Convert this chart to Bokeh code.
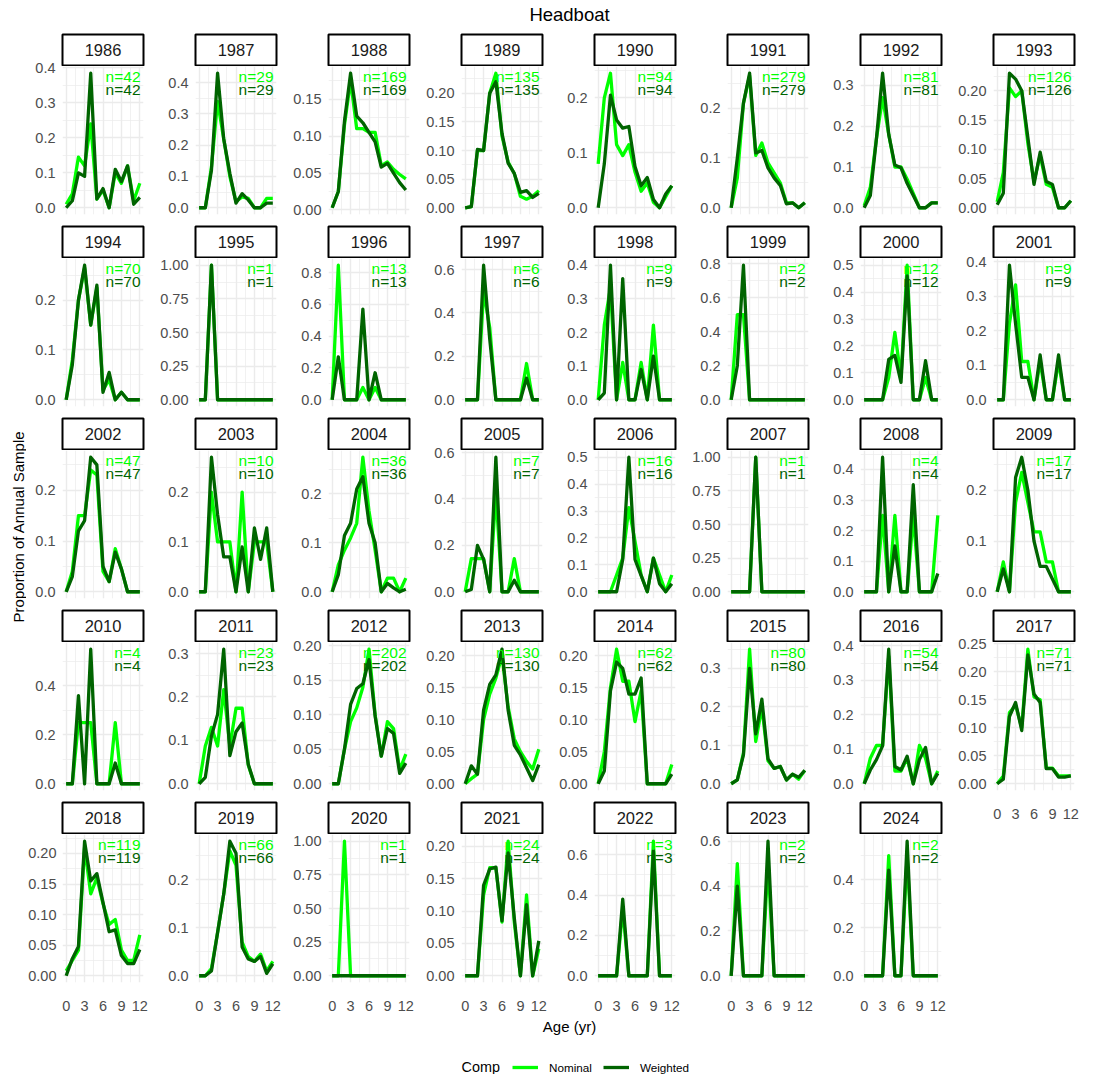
import math
from bokeh.plotting import figure
from bokeh.models import (Range1d, FixedTicker, NumeralTickFormatter, Grid, Label,
                          Legend, LegendItem)
from bokeh.layouts import row, column
from bokeh.embed import file_html
from bokeh.resources import INLINE

# ---------------- data ----------------
ages = list(range(13))
years = list(range(1986, 2025))
n_fish = [42, 29, 169, 135, 94, 279, 81, 126,
          70, 1, 13, 6, 9, 2, 12, 9,
          47, 10, 36, 7, 16, 1, 4, 17,
          4, 23, 202, 130, 62, 80, 54, 71,
          119, 66, 1, 24, 3, 2, 2]
y_step = [0.1, 0.1, 0.05, 0.05, 0.1, 0.1, 0.1, 0.05,
          0.1, 0.25, 0.2, 0.2, 0.1, 0.2, 0.1, 0.1,
          0.1, 0.1, 0.1, 0.2, 0.1, 0.25, 0.1, 0.1,
          0.2, 0.1, 0.05, 0.05, 0.05, 0.1, 0.1, 0.05,
          0.05, 0.1, 0.25, 0.05, 0.2, 0.2, 0.2]
x_ticks = [0, 3, 6, 9, 12]
x_minor = [1.5, 4.5, 7.5, 10.5]
comp_labels = ["Nominal", "Weighted"]

nom_1986 = [0.01, 0.04, 0.145, 0.12, 0.24, 0.025, 0.05, 0.0, 0.10, 0.07, 0.12, 0.02, 0.07]
wgt_1986 = [0.0, 0.02, 0.10, 0.09, 0.385, 0.025, 0.055, 0.0, 0.11, 0.075, 0.12, 0.01, 0.03]
nom_1987 = [0.0, 0.0, 0.13, 0.34, 0.22, 0.10, 0.02, 0.035, 0.03, 0.0, 0.0, 0.03, 0.03]
wgt_1987 = [0.0, 0.0, 0.12, 0.43, 0.22, 0.11, 0.015, 0.045, 0.025, 0.0, 0.0, 0.015, 0.015]
nom_1988 = [0.003, 0.025, 0.115, 0.175, 0.11, 0.11, 0.105, 0.105, 0.06, 0.065, 0.055, 0.048, 0.042]
wgt_1988 = [0.003, 0.025, 0.12, 0.185, 0.127, 0.118, 0.105, 0.092, 0.058, 0.063, 0.05, 0.037, 0.027]
nom_1989 = [0.0, 0.002, 0.10, 0.10, 0.20, 0.235, 0.125, 0.08, 0.06, 0.02, 0.015, 0.02, 0.03]
wgt_1989 = [0.0, 0.002, 0.102, 0.10, 0.20, 0.22, 0.13, 0.078, 0.06, 0.027, 0.03, 0.018, 0.025]
nom_1990 = [0.08, 0.2, 0.245, 0.115, 0.095, 0.115, 0.065, 0.03, 0.045, 0.01, 0.0, 0.02, 0.04]
wgt_1990 = [0.0, 0.08, 0.205, 0.16, 0.145, 0.148, 0.075, 0.04, 0.055, 0.015, 0.0, 0.025, 0.04]
nom_1991 = [0.0, 0.06, 0.21, 0.265, 0.105, 0.13, 0.09, 0.07, 0.05, 0.01, 0.01, 0.0, 0.01]
wgt_1991 = [0.0, 0.10, 0.21, 0.27, 0.11, 0.115, 0.08, 0.06, 0.045, 0.008, 0.01, 0.0, 0.01]
nom_1992 = [0.005, 0.05, 0.17, 0.27, 0.18, 0.10, 0.10, 0.07, 0.035, 0.0, 0.0, 0.012, 0.012]
wgt_1992 = [0.0, 0.03, 0.17, 0.33, 0.18, 0.105, 0.098, 0.06, 0.03, 0.0, 0.0, 0.012, 0.012]
nom_1993 = [0.01, 0.06, 0.205, 0.19, 0.20, 0.11, 0.045, 0.09, 0.04, 0.035, 0.0, 0.0, 0.012]
wgt_1993 = [0.005, 0.025, 0.23, 0.22, 0.20, 0.12, 0.04, 0.095, 0.045, 0.04, 0.0, 0.0, 0.012]
nom_1994 = [0.0, 0.08, 0.2, 0.265, 0.15, 0.225, 0.02, 0.04, 0.0, 0.015, 0.0, 0.0, 0.0]
wgt_1994 = [0.0, 0.07, 0.2, 0.27, 0.15, 0.23, 0.015, 0.055, 0.0, 0.015, 0.0, 0.0, 0.0]
nom_1995 = [0, 0, 1.0, 0, 0, 0, 0, 0, 0, 0, 0, 0, 0]
wgt_1995 = [0, 0, 1.0, 0, 0, 0, 0, 0, 0, 0, 0, 0, 0]
nom_1996 = [0.0, 0.846, 0.0, 0.0, 0.0, 0.077, 0.0, 0.077, 0.0, 0.0, 0.0, 0.0, 0.0]
wgt_1996 = [0.0, 0.27, 0.0, 0.0, 0.0, 0.57, 0.0, 0.17, 0.0, 0.0, 0.0, 0.0, 0.0]
nom_1997 = [0, 0, 0, 0.5, 0.333, 0, 0, 0, 0, 0, 0.167, 0, 0]
wgt_1997 = [0, 0, 0, 0.62, 0.28, 0, 0, 0, 0, 0, 0.10, 0, 0]
nom_1998 = [0.0, 0.222, 0.333, 0.0, 0.111, 0.0, 0.0, 0.111, 0.0, 0.222, 0.0, 0.0, 0.0]
wgt_1998 = [0.0, 0.02, 0.40, 0.0, 0.36, 0.0, 0.0, 0.09, 0.0, 0.13, 0.0, 0.0, 0.0]
nom_1999 = [0.0, 0.5, 0.5, 0, 0, 0, 0, 0, 0, 0, 0, 0, 0]
wgt_1999 = [0.0, 0.2, 0.79, 0, 0, 0, 0, 0, 0, 0, 0, 0, 0]
nom_2000 = [0, 0, 0, 0, 0.083, 0.25, 0.083, 0.5, 0, 0, 0.083, 0, 0]
wgt_2000 = [0, 0, 0, 0, 0.15, 0.165, 0.065, 0.46, 0, 0, 0.145, 0, 0]
nom_2001 = [0, 0, 0.222, 0.333, 0.111, 0.111, 0, 0.111, 0, 0, 0.111, 0, 0]
wgt_2001 = [0, 0, 0.39, 0.22, 0.065, 0.065, 0, 0.13, 0, 0, 0.13, 0, 0]
nom_2002 = [0.0, 0.04, 0.15, 0.15, 0.24, 0.23, 0.04, 0.02, 0.085, 0.045, 0.0, 0.0, 0.0]
wgt_2002 = [0.0, 0.03, 0.12, 0.14, 0.265, 0.25, 0.05, 0.02, 0.078, 0.045, 0.0, 0.0, 0.0]
nom_2003 = [0, 0, 0.2, 0.1, 0.1, 0.1, 0.0, 0.2, 0.0, 0.1, 0.1, 0.1, 0.0]
wgt_2003 = [0, 0, 0.27, 0.155, 0.07, 0.07, 0.0, 0.09, 0.0, 0.128, 0.065, 0.128, 0.0]
nom_2004 = [0.0, 0.055, 0.085, 0.11, 0.14, 0.275, 0.165, 0.085, 0.0, 0.028, 0.028, 0.0, 0.028]
wgt_2004 = [0.0, 0.035, 0.115, 0.14, 0.21, 0.235, 0.14, 0.10, 0.0, 0.017, 0.008, 0.0, 0.005]
nom_2005 = [0, 0.143, 0.143, 0.143, 0, 0.429, 0, 0, 0.143, 0, 0, 0, 0]
wgt_2005 = [0, 0.01, 0.2, 0.14, 0, 0.58, 0, 0, 0.05, 0, 0, 0, 0]
nom_2006 = [0, 0, 0, 0.0625, 0.125, 0.3125, 0.1875, 0.0625, 0, 0.125, 0.0625, 0, 0.0625]
wgt_2006 = [0, 0, 0, 0.0, 0.12, 0.5, 0.12, 0.06, 0, 0.125, 0.03, 0, 0.03]
nom_2007 = [0, 0, 0, 0, 1.0, 0, 0, 0, 0, 0, 0, 0, 0]
wgt_2007 = [0, 0, 0, 0, 1.0, 0, 0, 0, 0, 0, 0, 0, 0]
nom_2008 = [0, 0, 0, 0.25, 0, 0.25, 0, 0, 0.25, 0, 0, 0, 0.25]
wgt_2008 = [0, 0, 0, 0.44, 0, 0.15, 0, 0, 0.35, 0, 0, 0, 0.06]
nom_2009 = [0, 0.059, 0, 0.176, 0.235, 0.176, 0.118, 0.118, 0.059, 0.059, 0, 0, 0]
wgt_2009 = [0, 0.045, 0, 0.225, 0.265, 0.2, 0.1, 0.05, 0.05, 0.025, 0, 0, 0]
nom_2010 = [0, 0, 0.25, 0.25, 0.25, 0, 0, 0, 0.25, 0, 0, 0, 0]
wgt_2010 = [0, 0, 0.36, 0, 0.55, 0, 0, 0, 0.085, 0, 0, 0, 0]
nom_2011 = [0.0, 0.087, 0.13, 0.087, 0.217, 0.087, 0.174, 0.174, 0.043, 0, 0, 0, 0]
wgt_2011 = [0.0, 0.015, 0.11, 0.16, 0.31, 0.065, 0.12, 0.14, 0.045, 0, 0, 0, 0]
nom_2012 = [0.0, 0.0, 0.05, 0.09, 0.11, 0.14, 0.195, 0.1, 0.04, 0.09, 0.08, 0.02, 0.043]
wgt_2012 = [0.0, 0.0, 0.05, 0.115, 0.138, 0.145, 0.18, 0.098, 0.04, 0.08, 0.073, 0.015, 0.03]
nom_2013 = [0.0, 0.008, 0.015, 0.1, 0.14, 0.165, 0.2, 0.12, 0.07, 0.05, 0.035, 0.023, 0.054]
wgt_2013 = [0.0, 0.028, 0.015, 0.115, 0.155, 0.17, 0.21, 0.115, 0.06, 0.045, 0.025, 0.005, 0.03]
nom_2014 = [0.0, 0.05, 0.15, 0.21, 0.16, 0.16, 0.097, 0.145, 0.0, 0.0, 0.0, 0.0, 0.03]
wgt_2014 = [0.0, 0.02, 0.145, 0.19, 0.18, 0.14, 0.14, 0.165, 0.0, 0.0, 0.0, 0.0, 0.015]
nom_2015 = [0.0, 0.01, 0.08, 0.35, 0.11, 0.2, 0.06, 0.04, 0.045, 0.01, 0.025, 0.012, 0.035]
wgt_2015 = [0.0, 0.01, 0.075, 0.3, 0.13, 0.22, 0.065, 0.04, 0.045, 0.01, 0.025, 0.017, 0.035]
nom_2016 = [0.0, 0.074, 0.111, 0.111, 0.37, 0.037, 0.037, 0.074, 0.0, 0.111, 0.074, 0.0, 0.037]
wgt_2016 = [0.0, 0.04, 0.07, 0.11, 0.39, 0.05, 0.04, 0.08, 0.0, 0.07, 0.105, 0.0, 0.03]
nom_2017 = [0.0, 0.014, 0.127, 0.14, 0.1, 0.24, 0.155, 0.15, 0.028, 0.028, 0.014, 0.014, 0.014]
wgt_2017 = [0.0, 0.008, 0.12, 0.145, 0.095, 0.23, 0.16, 0.145, 0.027, 0.027, 0.012, 0.012, 0.014]
nom_2018 = [0.008, 0.025, 0.042, 0.21, 0.134, 0.16, 0.118, 0.084, 0.092, 0.042, 0.025, 0.025, 0.067]
wgt_2018 = [0.0, 0.028, 0.048, 0.22, 0.155, 0.167, 0.12, 0.072, 0.075, 0.033, 0.02, 0.02, 0.043]
nom_2019 = [0, 0, 0.015, 0.09, 0.17, 0.26, 0.23, 0.07, 0.04, 0.03, 0.045, 0.01, 0.03]
wgt_2019 = [0, 0, 0.01, 0.09, 0.17, 0.28, 0.255, 0.06, 0.035, 0.03, 0.04, 0.005, 0.025]
nom_2020 = [0, 0, 1.0, 0, 0, 0, 0, 0, 0, 0, 0, 0, 0]
wgt_2020 = [0, 0, 0, 0, 0, 0, 0, 0, 0, 0, 0, 0, 0]
nom_2021 = [0, 0, 0, 0.125, 0.167, 0.167, 0.083, 0.208, 0.083, 0, 0.125, 0, 0.042]
wgt_2021 = [0, 0, 0, 0.14, 0.165, 0.168, 0.085, 0.19, 0.09, 0, 0.11, 0, 0.054]
nom_2022 = [0, 0, 0, 0, 0.333, 0, 0, 0, 0, 0.667, 0, 0, 0]
wgt_2022 = [0, 0, 0, 0, 0.38, 0, 0, 0, 0, 0.62, 0, 0, 0]
nom_2023 = [0, 0.5, 0, 0, 0, 0, 0.5, 0, 0, 0, 0, 0, 0]
wgt_2023 = [0, 0.4, 0, 0, 0, 0, 0.6, 0, 0, 0, 0, 0, 0]
nom_2024 = [0, 0, 0, 0, 0.5, 0, 0, 0.5, 0, 0, 0, 0, 0]
wgt_2024 = [0, 0, 0, 0, 0.44, 0, 0, 0.56, 0, 0, 0, 0, 0]

NOM = {y: globals()["nom_%d" % y] for y in years}
WGT = {y: globals()["wgt_%d" % y] for y in years}

# ---------------- styling / geometry ----------------
FONT = "Liberation Sans"
C_NOM = "#00FF00"
C_WGT = "#006400"
GRID_C = "#EBEBEB"
TICK_C = "#4D4D4D"
NCOL = 8
PANEL_W = 83
PANEL_H = 148
STRIP_H = 33
GAP = 11
AX_H = 36
RB = 8
AXW_FIRST = 35
AXW = 42
YLAB_W = 26
TOP_H = 33
LAYOUT_W = YLAB_W + AXW_FIRST + (PANEL_W + RB) + (NCOL - 1) * (AXW + PANEL_W + RB)
COL_H = 4 * (STRIP_H + PANEL_H + GAP) + STRIP_H + PANEL_H + AX_H
BOT_H = 1074 - TOP_H - COL_H
CENTER_X = 569
LEG_X = 512
COMP_X = 461


def drop_grids(p):
    p.center = [r for r in p.center if not isinstance(r, Grid)]


def style_axis(ax, standoff):
    ax.axis_line_color = None
    ax.major_tick_line_color = None
    ax.minor_tick_line_color = None
    ax.major_tick_out = 0
    ax.major_tick_in = 0
    ax.major_label_text_font = FONT
    ax.major_label_text_font_size = "14.5px"
    ax.major_label_text_color = TICK_C
    ax.major_label_standoff = standoff


def make_facet(i, year, axw, bottom_axis):
    nom = NOM[year]
    wgt = WGT[year]
    allv = nom + wgt
    lo, hi = min(allv), max(allv)
    pad = 0.05 * (hi - lo)
    y0, y1 = lo - pad, hi + pad
    bb = AX_H if bottom_axis else GAP
    step = y_step[i]
    yt = []
    k = 0
    while k * step <= y1 + 1e-9:
        v = round(k * step, 4)
        if v >= y0 - 1e-9:
            yt.append(v)
        k += 1
    ym = [round((k + 0.5) * step, 4) for k in range(-1, len(yt) + 1)]
    ym = [v for v in ym if y0 <= v <= y1]
    yrange = Range1d(y0, y1)

    # y-axis holder (labels may spill upward next to the strip)
    a = figure(width=axw, height=STRIP_H + PANEL_H + bb, x_range=Range1d(0, 1), y_range=yrange,
               x_axis_location=None, y_axis_location="left", toolbar_location=None,
               output_backend="svg", min_border_left=axw - 1, min_border_right=0,
               min_border_top=STRIP_H, min_border_bottom=bb, outline_line_color=None,
               background_fill_color="white", border_fill_color="white")
    drop_grids(a)
    yax = a.yaxis[0]
    yax.ticker = FixedTicker(ticks=yt)
    yax.formatter = NumeralTickFormatter(format="0.00" if step in (0.05, 0.25) else "0.0")
    style_axis(yax, 5)

    # facet strip
    s = figure(width=PANEL_W + RB, height=STRIP_H, x_range=Range1d(0, 1), y_range=Range1d(0, 1),
               x_axis_location=None, y_axis_location=None, toolbar_location=None,
               output_backend="svg", min_border_left=1, min_border_right=RB + 1,
               min_border_top=1, min_border_bottom=1, outline_line_color="black",
               outline_line_width=2, background_fill_color="white", border_fill_color="white")
    drop_grids(s)
    s.add_layout(Label(x=(PANEL_W - 2) / 2, y=(STRIP_H - 2) / 2, x_units="screen", y_units="screen",
                       text=str(year), text_align="center", text_baseline="middle",
                       text_font=FONT, text_font_size="16.5px", text_color="#1A1A1A"))

    # panel
    p = figure(width=PANEL_W + RB, height=PANEL_H + bb,
               x_range=Range1d(-0.6, 12.6), y_range=yrange,
               x_axis_location=("below" if bottom_axis else None), y_axis_location=None,
               toolbar_location=None, output_backend="svg",
               min_border_left=0, min_border_right=RB, min_border_top=0, min_border_bottom=bb,
               outline_line_color=None, background_fill_color="white", border_fill_color="white")
    drop_grids(p)
    p.add_layout(Grid(dimension=0, ticker=FixedTicker(ticks=x_ticks, minor_ticks=x_minor),
                      grid_line_color=GRID_C, grid_line_width=1.4,
                      minor_grid_line_color=GRID_C, minor_grid_line_width=0.7), "center")
    p.add_layout(Grid(dimension=1, ticker=FixedTicker(ticks=yt, minor_ticks=ym),
                      grid_line_color=GRID_C, grid_line_width=1.4,
                      minor_grid_line_color=GRID_C, minor_grid_line_width=0.7), "center")
    if bottom_axis:
        xax = p.xaxis[0]
        xax.ticker = FixedTicker(ticks=x_ticks)
        style_axis(xax, 18)
    p.line(ages, nom, line_color=C_NOM, line_width=3.3, line_join="round")
    p.line(ages, wgt, line_color=C_WGT, line_width=3.3, line_join="round")
    p.add_layout(Label(x=PANEL_W - 5, y=PANEL_H - 9.5, x_units="screen", y_units="screen",
                       text="n=%d" % n_fish[i], text_align="right", text_baseline="middle",
                       text_font=FONT, text_font_size="15.5px", text_color=C_NOM))
    p.add_layout(Label(x=PANEL_W - 5, y=PANEL_H - 23, x_units="screen", y_units="screen",
                       text="n=%d" % n_fish[i], text_align="right", text_baseline="middle",
                       text_font=FONT, text_font_size="15.5px", text_color=C_WGT))
    return row(a, column(s, p))


def blank(w, h):
    b = figure(width=w, height=h, x_range=Range1d(0, 1), y_range=Range1d(0, 1),
               x_axis_location=None, y_axis_location=None, toolbar_location=None,
               output_backend="svg", min_border=0, outline_line_color=None,
               background_fill_color="white", border_fill_color="white")
    drop_grids(b)
    return b


cols = []
for c in range(NCOL):
    axw = AXW_FIRST if c == 0 else AXW
    idx = [r * NCOL + c for r in range(5) if r * NCOL + c < len(years)]
    items = [make_facet(i, years[i], axw, j == len(idx) - 1) for j, i in enumerate(idx)]
    cols.append(column(*items))

ylab = blank(YLAB_W, COL_H)
ylab.add_layout(Label(x=17.5, y=COL_H - 493, x_units="screen", y_units="screen",
                      text="Proportion of Annual Sample", angle=math.pi / 2,
                      text_align="center", text_baseline="middle",
                      text_font=FONT, text_font_size="15px", text_color="black"))

top = blank(LAYOUT_W, TOP_H)
top.add_layout(Label(x=CENTER_X, y=TOP_H - 13.5, x_units="screen", y_units="screen",
                     text="Headboat", text_align="center", text_baseline="alphabetic",
                     text_font=FONT, text_font_size="18.5px", text_color="black"))

bot = blank(LAYOUT_W, BOT_H)
bot.add_layout(Label(x=CENTER_X, y=BOT_H - 8, x_units="screen", y_units="screen",
                     text="Age (yr)", text_align="center", text_baseline="middle",
                     text_font=FONT, text_font_size="15px", text_color="black"))
bot.add_layout(Label(x=COMP_X, y=7.5, x_units="screen", y_units="screen",
                     text="Comp", text_align="left", text_baseline="middle",
                     text_font=FONT, text_font_size="14.4px", text_color="black"))
nan = float("nan")
r_nom = bot.line(x=[nan], y=[nan], line_color=C_NOM, line_width=3.3)
r_wgt = bot.line(x=[nan], y=[nan], line_color=C_WGT, line_width=3.3)
leg = Legend(items=[LegendItem(label=comp_labels[0], renderers=[r_nom]),
                    LegendItem(label=comp_labels[1], renderers=[r_wgt])],
             orientation="horizontal", location=(LEG_X, 0),
             glyph_width=26, glyph_height=14, label_height=14, label_standoff=11,
             spacing=11, padding=0, margin=0, border_line_color=None,
             background_fill_alpha=0, label_text_font=FONT,
             label_text_font_size="11.7px", label_text_color="black",
             label_text_baseline="middle")
bot.add_layout(leg)

layout = column(top, row(ylab, *cols), bot)

html = file_html(layout, INLINE, title="Headboat")
with open("out.html", "w") as f:
    f.write(html)
